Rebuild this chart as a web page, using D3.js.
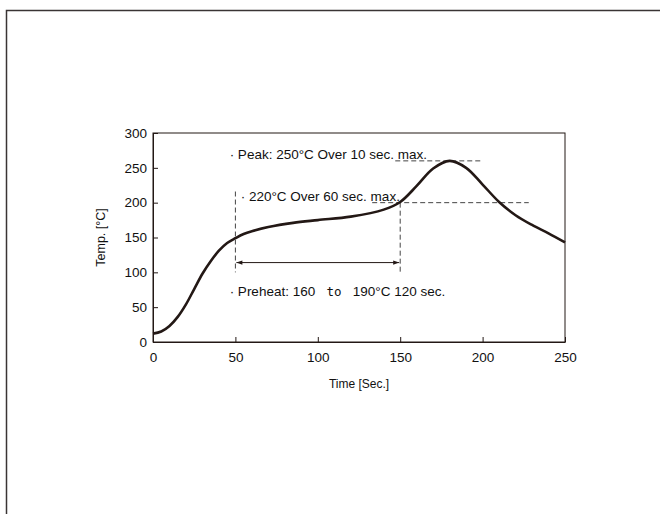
<!DOCTYPE html>
<html><head><meta charset="utf-8">
<script src="https://cdn.jsdelivr.net/npm/d3@7/dist/d3.min.js"></script>
<style>body{margin:0;background:#fff}svg{display:block}</style>
</head><body>
<svg id="c" width="660" height="514"></svg>
<script>
const times = [0,5,10,15,20,25,30,35,40,45,50,55,60,70,85,100,120,140,150,160,170,180,190,200,210,220,230,240,250];
const temps = [12,15,23,36,54,76,98,116,131,142,149,155,159,165,171,175,180,190,201,224,249,260,250,226,201,182,168,156,143];
const xTicks = [0,50,100,150,200,250];
const yTicks = [0,50,100,150,200,250,300];
const peakLine = {t0:147, t1:200, temp:260};
const limitLine = {t0:133, t1:228, temp:200};
const preheat = {t0:50, t1:150, arrowTemp:114, top0:216, top1:200, bottom:100};
const labels = {
  peak: "· Peak: 250°C Over 10 sec. max.",
  limit: "· 220°C Over 60 sec. max.",
  pre: ["· Preheat: 160 ", " to ", " 190°C 120 sec."],
  x: "Time [Sec.]",
  y: "Temp. [°C]"
};

const ink = "#231815";
const svg = d3.select("#c");
svg.append("rect").attr("x",6.5).attr("y",10.5).attr("width",700).attr("height",600)
  .attr("fill","none").attr("stroke","#3a3434").attr("stroke-width",1.5);

const x = d3.scaleLinear().domain([0,250]).range([153,565]);
const y = d3.scaleLinear().domain([0,300]).range([342,133]);
const font = "Liberation Sans, Arial, Helvetica, sans-serif";

const defs = svg.append("defs");
defs.append("marker").attr("id","ah").attr("viewBox","0 0 10 10").attr("refX",10).attr("refY",5)
  .attr("markerWidth",8).attr("markerHeight",6).attr("markerUnits","userSpaceOnUse").attr("orient","auto-start-reverse")
  .append("path").attr("d","M0,1.5L10,5L0,8.5Z").attr("fill",ink);

svg.append("rect").attr("x",x(0)).attr("y",y(300)).attr("width",x(250)-x(0)).attr("height",y(0)-y(300))
  .attr("fill","none").attr("stroke",ink).attr("stroke-width",1);

const xa = svg.append("g").attr("transform",`translate(0,${y(0)})`)
  .call(d3.axisBottom(x).tickValues(xTicks).tickSizeInner(-5).tickSizeOuter(0).tickPadding(10));
const ya = svg.append("g").attr("transform",`translate(${x(0)},0)`)
  .call(d3.axisLeft(y).tickValues(yTicks).tickSizeInner(-5).tickSizeOuter(0).tickPadding(6));
[xa,ya].forEach(g=>{
  g.select(".domain").attr("stroke",ink);
  g.selectAll(".tick line").attr("stroke",ink);
  g.selectAll("text").attr("fill","#111").style("font-family",font).style("font-size","13.5px");
});

const dash = "5,3";
const dl = (x1,y1,x2,y2)=>svg.append("line").attr("x1",x1).attr("y1",y1).attr("x2",x2).attr("y2",y2)
  .attr("stroke","#444").attr("stroke-width",1).attr("stroke-dasharray",dash);
dl(x(peakLine.t0),y(peakLine.temp),x(peakLine.t1),y(peakLine.temp));
dl(x(limitLine.t0),y(limitLine.temp),x(limitLine.t1),y(limitLine.temp));
dl(x(preheat.t0),y(preheat.top0),x(preheat.t0),y(preheat.bottom));
dl(x(preheat.t1),y(preheat.top1),x(preheat.t1),y(preheat.bottom));

svg.append("line").attr("x1",x(preheat.t0)+1).attr("y1",y(preheat.arrowTemp))
  .attr("x2",x(preheat.t1)-1).attr("y2",y(preheat.arrowTemp))
  .attr("stroke",ink).attr("stroke-width",1)
  .attr("marker-start","url(#ah)").attr("marker-end","url(#ah)");

const pts = times.map((t,i)=>[t,temps[i]]);
svg.append("path").datum(pts)
  .attr("d",d3.line().x(d=>x(d[0])).y(d=>y(d[1])).curve(d3.curveCatmullRom.alpha(0.5)))
  .attr("fill","none").attr("stroke",ink).attr("stroke-width",2.6).attr("stroke-linejoin","round");

const txt = (s,tx,ty)=>svg.append("text").attr("x",tx).attr("y",ty).attr("fill","#111")
  .style("font-family",font).style("font-size","13.5px").text(s);
txt(labels.peak, x(46.5), y(265)+2);
txt(labels.limit, x(53.2), y(205)+2);
const pt = svg.append("text").attr("x",x(46.5)).attr("y",y(66)).attr("fill","#111")
  .style("font-family",font).style("font-size","13.5px").attr("xml:space","preserve");
pt.append("tspan").text(labels.pre[0]);
pt.append("tspan").style("font-family","DejaVu Sans Mono, monospace").style("font-size","12.5px").text(labels.pre[1]);
pt.append("tspan").text(labels.pre[2]);

svg.append("text").attr("x",(x(0)+x(250))/2).attr("y",388).attr("text-anchor","middle")
  .attr("fill","#111").style("font-family",font).style("font-size","12px").text(labels.x);
svg.append("text").attr("transform",`translate(105,${(y(0)+y(300))/2}) rotate(-90)`).attr("text-anchor","middle")
  .attr("fill","#111").style("font-family",font).style("font-size","12.5px").text(labels.y);
</script>
</body></html>
